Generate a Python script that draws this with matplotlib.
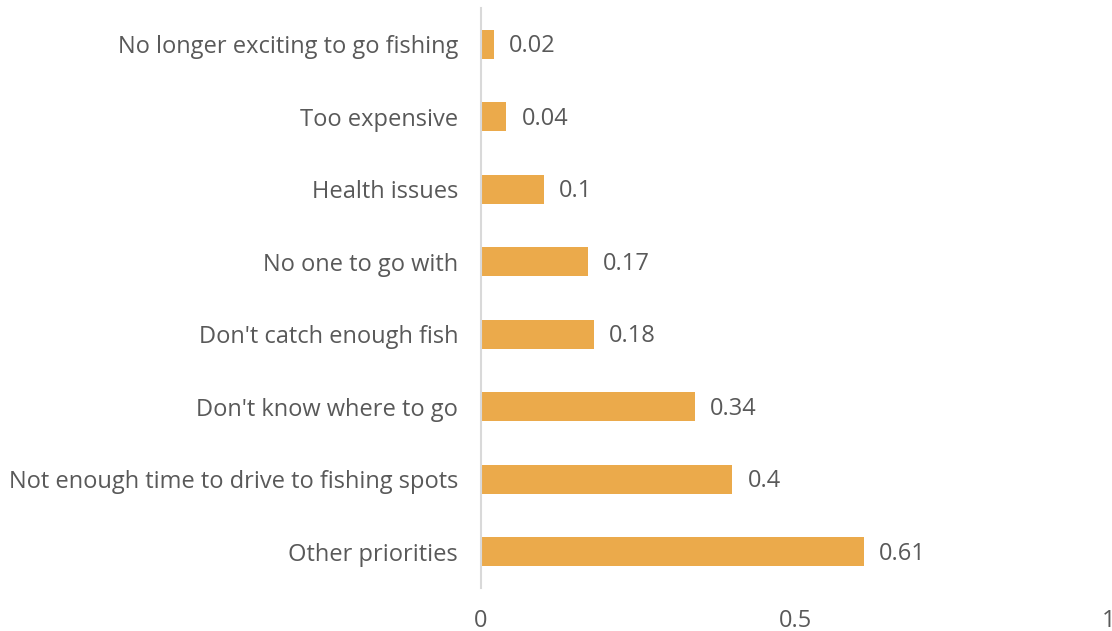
import matplotlib.pyplot as plt

# reasons for not fishing, bottom to top
reasons = [
    "Other priorities",
    "Not enough time to drive to fishing spots",
    "Don't know where to go",
    "Don't catch enough fish",
    "No one to go with",
    "Health issues",
    "Too expensive",
    "No longer exciting to go fishing",
]
shares = [0.61, 0.4, 0.34, 0.18, 0.17, 0.1, 0.04, 0.02]
xticks = [0, 0.5, 1]
xtick_labels = ["0", "0.5", "1"]

plt.rcParams['font.family'] = ['Open Sans', 'DejaVu Sans']
bar_color = '#EBAA4B'
text_color = '#595959'
fs = 17

fig = plt.figure(figsize=(11.12, 6.31), dpi=100)
ax = fig.add_axes([481 / 1112, 1 - 588 / 631, 628 / 1112, 580 / 631])

pos = list(range(len(reasons)))
bars = ax.barh(pos, shares, height=0.4, color=bar_color)
labels = ax.bar_label(bars, labels=[f"{v:g}" for v in shares], padding=11,
                      fontsize=fs, color=text_color)
# nudge value labels down a touch so they sit centred on the bars
for lab in labels:
    lab.xyann = (11, -1.5)

ax.set_xlim(0, 1)
ax.set_ylim(-0.5, len(reasons) - 0.5)
ax.set_yticks(pos)
ax.set_yticklabels(reasons, fontsize=fs, color=text_color)
ax.set_xticks(xticks)
ax.set_xticklabels(xtick_labels, fontsize=fs, color=text_color)
ax.tick_params(axis='both', length=0)
ax.tick_params(axis='y', pad=16.5)
ax.tick_params(axis='x', pad=15)

for side in ['top', 'right', 'bottom']:
    ax.spines[side].set_visible(False)
ax.spines['left'].set_color('#D9D9D9')
ax.spines['left'].set_linewidth(1.5)

fig.savefig('out.png', dpi=100)
